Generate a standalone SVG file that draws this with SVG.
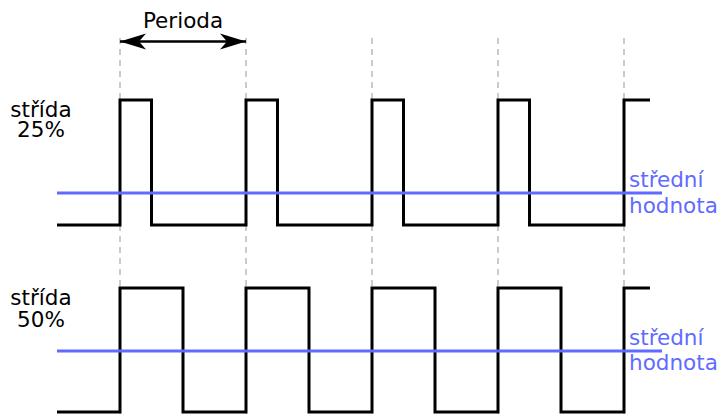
<svg xmlns="http://www.w3.org/2000/svg" width="721" height="414" viewBox="0 0 721 414">
<style>
.grid{stroke:#bbbbbb;stroke-width:1.5;stroke-dasharray:6,5;fill:none}
.wave{stroke:#000;stroke-width:3;fill:none}
.mean{stroke:#5f6bff;stroke-width:3;fill:none}
.t{font-family:"DejaVu Sans",sans-serif;font-size:21.5px;fill:#000}
.b{font-family:"DejaVu Sans",sans-serif;font-size:21.5px;fill:#5f6bff}
</style>
<defs>
<marker id="ah" viewBox="0 0 10 10" refX="10" refY="5" markerWidth="9" markerHeight="6" markerUnits="userSpaceOnUse" orient="auto-start-reverse">
<path d="M0,0 L10,5 L0,10 L3,5 z" fill="#000"/>
</marker>
</defs>
<g id="grid">
<line class="grid" x1="120" y1="38" x2="120" y2="414"/>
<line class="grid" x1="246" y1="38" x2="246" y2="414"/>
<line class="grid" x1="372" y1="38" x2="372" y2="414"/>
<line class="grid" x1="498" y1="38" x2="498" y2="414"/>
<line class="grid" x1="624" y1="38" x2="624" y2="414"/>
</g>
<g id="period">
<path d="M120,41.5 L246,41.5" stroke="#000" stroke-width="2.5" fill="none"/>
<path d="M120,41.5 l26,-8 l-7,8 l7,8 z M246,41.5 l-26,-8 l7,8 l-7,8 z" fill="#000"/>
<text class="t" x="183" y="28" text-anchor="middle">Perioda</text>
</g>
<g id="wave25">
<path class="wave" d="M57,225 H120 V100 H151.5 V225 H246 V100 H277.5 V225 H372 V100 H403.5 V225 H498 V100 H529.5 V225 H624 V100 H650"/>
<line class="mean" x1="57" y1="193" x2="662" y2="193"/>
<text class="t" x="41" y="117" text-anchor="middle">střída</text>
<text class="t" x="41" y="137" text-anchor="middle">25%</text>
<text class="b" x="629" y="187">střední</text>
<text class="b" x="629" y="213">hodnota</text>
</g>
<g id="wave50">
<path class="wave" d="M57,412 H120 V288 H183 V412 H246 V288 H309 V412 H372 V288 H435 V412 H498 V288 H561 V412 H624 V288 H650"/>
<line class="mean" x1="57" y1="351" x2="662" y2="351"/>
<text class="t" x="41" y="305" text-anchor="middle">střída</text>
<text class="t" x="41" y="327" text-anchor="middle">50%</text>
<text class="b" x="629" y="345">střední</text>
<text class="b" x="629" y="370">hodnota</text>
</g>
</svg>
